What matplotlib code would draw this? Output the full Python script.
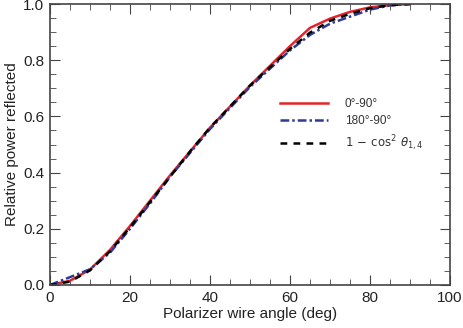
import matplotlib
matplotlib.use("Agg")
import matplotlib.pyplot as plt
import numpy as np

plt.rcParams['font.family'] = ['Liberation Sans', 'DejaVu Sans']
plt.rcParams['mathtext.fontset'] = 'dejavusans'

# angle of polarizer wire (deg)
angle = [0, 5, 10, 15, 20, 25, 30, 35, 40, 45, 50, 55, 60, 65, 70, 75, 80, 85, 90]

power_0_90 = [0, 0.015, 0.055, 0.125, 0.21, 0.30, 0.39, 0.475, 0.56, 0.635,
              0.71, 0.78, 0.85, 0.915, 0.948, 0.972, 0.988, 0.996, 1.0]
power_180_90 = [0, 0.028, 0.056, 0.115, 0.20, 0.29, 0.385, 0.47, 0.555, 0.63,
                0.705, 0.77, 0.835, 0.89, 0.93, 0.955, 0.98, 0.995, 1.0]
power_model = [0, 0.012, 0.052, 0.12, 0.205, 0.295, 0.385, 0.475, 0.56, 0.635,
               0.71, 0.775, 0.84, 0.898, 0.94, 0.965, 0.985, 0.996, 1.0]

labels = ['0°-90°', '180°-90°', r'$1\,-\,\cos^2\,\theta_{1,4}$']

fig = plt.figure(figsize=(4.63, 3.28), dpi=100)
ax = fig.add_axes([50/463, 43/328, 400/463, 281/328])

ax.plot(angle, power_0_90, color='#e3242b', lw=1.8, label=labels[0])
ax.plot(angle, power_180_90, color='#2e3b97', lw=1.8, dashes=(3.5, 1.2, 1, 1.2),
        label=labels[1])
ax.plot(angle, power_model, color='black', lw=1.8, dashes=(2.7, 2.5),
        label=labels[2])

ax.set_xlim(0, 100)
ax.set_ylim(0, 1)
ax.set_xticks(np.arange(0, 101, 20))
ax.set_xticks(np.arange(0, 101, 5), minor=True)
ax.set_yticks(np.arange(0, 1.01, 0.2))
ax.set_yticks(np.arange(0, 1.01, 0.05), minor=True)
ax.yaxis.set_major_formatter(matplotlib.ticker.FormatStrFormatter('%.1f'))
ax.tick_params(which='both', direction='in', top=True, right=True,
               color='#444444', labelcolor='#222222', labelsize=11, pad=4)
ax.tick_params(which='major', length=7)
ax.tick_params(which='minor', length=4)
for s in ax.spines.values():
    s.set_color('#444444')
    s.set_linewidth(1.2)

ax.set_xlabel('Polarizer wire angle (deg)', fontsize=11, labelpad=2, color='#222222')
ax.set_ylabel('Relative power reflected', fontsize=11, color='#222222')
ax.yaxis.set_label_coords(-0.078, 0.5)

leg = ax.legend(frameon=False, loc='upper left', bbox_to_anchor=(0.575, 0.665),
                fontsize=8.5, handlelength=4.1, handletextpad=1.4,
                labelspacing=0.45, borderpad=0, borderaxespad=0)
for t in leg.get_texts():
    t.set_color('#333333')

fig.savefig('out.png', dpi=100)
